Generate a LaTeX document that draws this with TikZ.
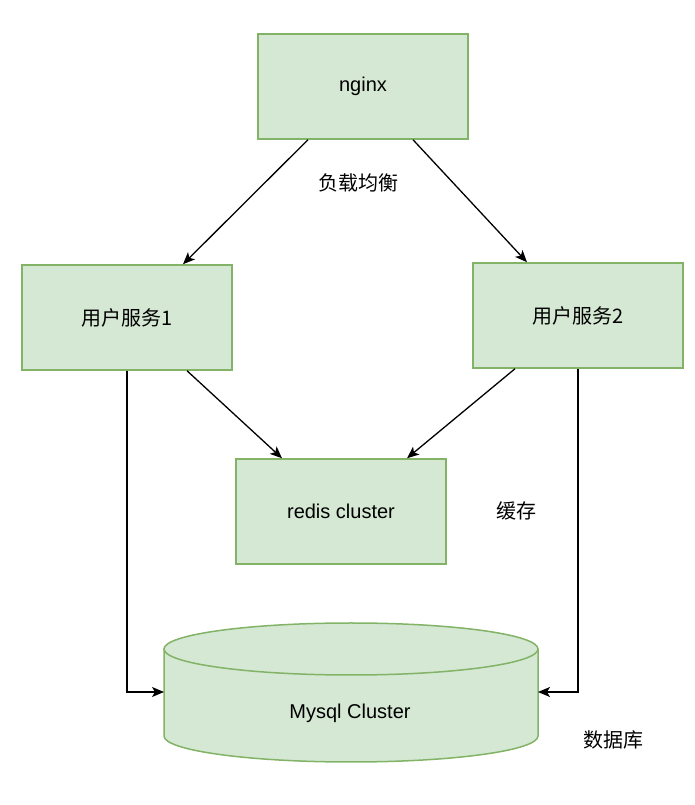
\documentclass[tikz,border=0pt]{standalone}
\usepackage{fontspec}
\setmainfont{Liberation Sans}
\newfontfamily\cjk{Noto Sans CJK SC}
\usepackage{xcolor}
\usetikzlibrary{arrows.meta, positioning}
\definecolor{boxfill}{HTML}{D5E8D4}
\definecolor{boxline}{HTML}{82B366}
\tikzset{
    box/.style={rectangle, draw=boxline, fill=boxfill, line width=1.5pt, minimum width=210pt, minimum height=105pt, font=\fontsize{20}{24}\selectfont},
    note/.style={font=\cjk\fontsize{20}{24}\selectfont},
    link/.style={line width=1.3pt, draw=black}
}

\begin{document}
\begin{tikzpicture}[x=1pt, y=1pt, >={Stealth[length=12pt, width=10pt, inset=3pt]}]
        \useasboundingbox (0,0) rectangle (694,805);

        % Cajas
        \node[box] (nginx) at (363,718.5) {nginx};
        \node[box, font=\cjk\fontsize{20}{24}\selectfont] (user1) at (127,487.5) {用户服务1};
        \node[box, font=\cjk\fontsize{20}{24}\selectfont] (user2) at (578,489.5) {用户服务2};
        \node[box] (redis) at (341,293.5) {redis cluster};

        % Base de datos
        \fill[boxfill] (164,156) -- (164,69) arc[start angle=180, end angle=360, x radius=187pt, y radius=26pt]
            -- (538,156) arc[start angle=0, end angle=180, x radius=187pt, y radius=26pt] -- cycle;
        \draw[boxline, line width=1.5pt] (164,156) -- (164,69) arc[start angle=180, end angle=360, x radius=187pt, y radius=26pt]
            -- (538,156);
        \draw[boxline, line width=1.5pt] (351,156) ellipse[x radius=187pt, y radius=26pt];
        \node[font=\fontsize{20}{24}\selectfont] (mysql) at (350,92) {Mysql Cluster};
        \coordinate (dbL) at (164,113);
        \coordinate (dbR) at (538,113);

        % Etiquetas
        \node[note] (balance) at (358,622) {负载均衡};
        \node[note] (cache) at (516,294) {缓存};
        \node[note] (db) at (613,65) {数据库};

        % Conexiones
        \draw[->, link] ([xshift=-55pt]nginx.south) -- ([xshift=56pt]user1.north);
        \draw[->, link] ([xshift=50pt]nginx.south) -- ([xshift=-51pt]user2.north);
        \draw[->, link] ([xshift=60pt]user1.south) -- ([xshift=-59pt]redis.north);
        \draw[->, link] ([xshift=-63pt]user2.south) -- ([xshift=66pt]redis.north);
        \draw[->, link] (user1.south) |- (dbL);
        \draw[->, link] (user2.south) |- (dbR);
    \end{tikzpicture}
\end{document}
